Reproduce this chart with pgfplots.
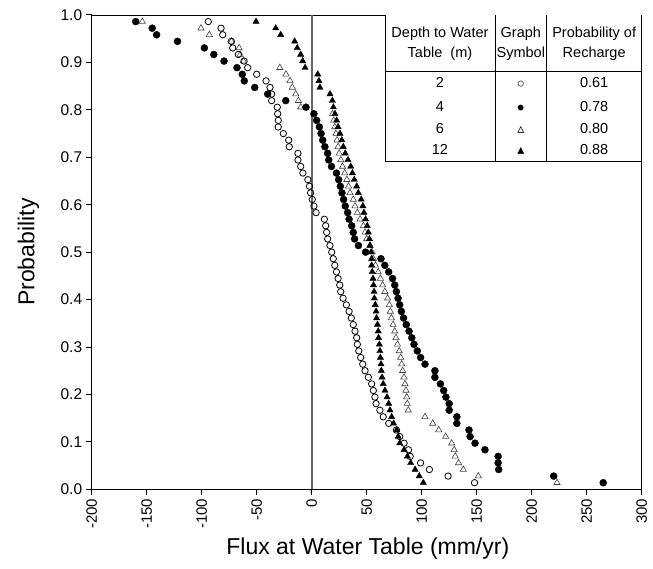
\documentclass[border=0pt]{standalone}
\usepackage{pgfplots}
\pgfplotsset{compat=1.18}
\usepackage{pgfplotstable}
\usepackage{fontspec}
\setmainfont{Liberation Sans}
\newfontfamily\dejavu{DejaVu Sans}

% depth 2 m (open circles): probability, flux
\pgfplotstableread{
p flux
0.9861 -94
0.9722 -82.4
0.9583 -80.9
0.9444 -73.1
0.9306 -71.8
0.9167 -66.7
0.9028 -61.5
0.8889 -58.2
0.875 -50
0.8611 -41.5
0.8472 -37.9
0.8333 -36.4
0.8194 -36.4
0.8056 -31.3
0.7917 -30.9
0.7778 -30.4
0.7639 -30.4
0.75 -25.8
0.7361 -20.9
0.7222 -20.4
0.7083 -12.5
0.6944 -12.5
0.6806 -10
0.6667 -8
0.6528 -3.5
0.6389 -2
0.625 -1
0.6111 0.5
0.5972 2
0.5833 4
0.5694 11.5
0.5556 12.7
0.5417 13.6
0.5278 14.5
0.5139 16.6
0.5 18.2
0.4861 19.6
0.4722 21
0.4583 22.5
0.4444 24
0.4306 25.5
0.4167 26.4
0.4028 28.5
0.3889 31.5
0.375 34
0.3611 36
0.3472 37.8
0.3333 39.4
0.3194 40.9
0.3056 41.5
0.2917 42.8
0.2778 44.5
0.2639 46.4
0.25 48.5
0.2361 51.5
0.2222 54.5
0.2083 56
0.1944 57.5
0.1806 58.5
0.1667 62
0.1528 65
0.1389 70
0.125 77
0.1111 80
0.0972 84
0.0833 88
0.0694 89.5
0.0556 99
0.0417 107
0.0278 124
0.0139 148
}\depthtwo

% depth 4 m (filled circles)
\pgfplotstableread{
p flux
0.9861 -160
0.9722 -145
0.9583 -141
0.9444 -122
0.9306 -97.6
0.9167 -89
0.9028 -79.7
0.8889 -67.9
0.875 -63.1
0.8611 -61.3
0.8472 -51.8
0.8333 -40
0.8194 -23.6
0.8056 -5.2
0.7917 2
0.7778 4.5
0.7639 7
0.75 8.5
0.7361 10
0.7222 12
0.7083 14.5
0.6944 15.5
0.6806 18
0.6667 22.5
0.6528 24.5
0.6389 26
0.625 27.5
0.6111 29
0.5972 30.5
0.5833 32.7
0.5694 34
0.5556 36.4
0.5417 37.8
0.5278 39
0.5139 42.5
0.5 49
0.4861 63
0.4722 66.5
0.4583 70
0.4444 73.5
0.4306 75.5
0.4167 77
0.4028 78.5
0.3889 80
0.375 81.5
0.3611 83.5
0.3472 86
0.3333 88.5
0.3194 91
0.3056 93
0.2917 96
0.2778 99
0.2639 103
0.25 112
0.2361 112
0.2222 117
0.2083 120
0.1944 122
0.1806 125
0.1667 125
0.1528 132
0.1389 132
0.125 143
0.1111 144
0.0972 148.5
0.0833 157.5
0.0694 169.5
0.0556 169.5
0.0417 170
0.0278 220
0.0139 265
}\depthfour

% depth 6 m (open triangles)
\pgfplotstableread{
p flux
0.9861 -154
0.9722 -100.6
0.9583 -93
0.9444 -73
0.9306 -66
0.9167 -65
0.9028 -62
0.8889 -29
0.875 -23.4
0.8611 -19.7
0.8472 -17.6
0.8333 -14.5
0.8194 -12.1
0.8056 -10
0.7917 19
0.7778 20
0.7639 21
0.75 22
0.7361 23
0.7222 24
0.7083 25
0.6944 26.5
0.6806 28
0.6667 30
0.6528 32
0.6389 33.5
0.625 34.8
0.6111 37.8
0.5972 39.4
0.5833 41.5
0.5694 44
0.5556 47
0.5417 48.5
0.5278 50
0.5139 53
0.5 55
0.4861 56
0.4722 58
0.4583 60.5
0.4444 62.5
0.4306 64.5
0.4167 66.5
0.4028 69
0.3889 70.6
0.375 71.5
0.3611 72.5
0.3472 74
0.3333 75.5
0.3194 76.6
0.3056 78
0.2917 79.6
0.2778 80.9
0.2639 81.8
0.25 82.7
0.2361 83.9
0.2222 84.8
0.2083 85.7
0.1944 86.4
0.1806 86.9
0.1667 87.8
0.1528 103
0.1389 110
0.125 115.5
0.1111 121.8
0.0972 127.3
0.0833 129.5
0.0694 130.5
0.0556 133.5
0.0417 137.8
0.0278 151.5
0.0139 223
}\depthsix

% depth 12 m (filled triangles)
\pgfplotstableread{
p flux
0.9861 -50.6
0.9722 -32.7
0.9583 -28.2
0.9444 -15.5
0.9306 -13.1
0.9167 -10
0.9028 -8.2
0.8889 -6
0.875 5.5
0.8611 6.6
0.8472 7.5
0.8333 16.6
0.8194 18.8
0.8056 19.7
0.7917 21.2
0.7778 22.7
0.7639 24
0.75 25.7
0.7361 27.3
0.7222 28.7
0.7083 30.5
0.6944 33
0.6806 35.5
0.6667 37
0.6528 38.7
0.6389 40.9
0.625 42.4
0.6111 45
0.5972 46.5
0.5833 47.5
0.5694 49
0.5556 50.5
0.5417 51.5
0.5278 52.5
0.5139 53
0.5 54
0.4861 54.5
0.4722 54.5
0.4583 55
0.4444 55.7
0.4306 56.2
0.4167 56.7
0.4028 57
0.3889 57.8
0.375 58.5
0.3611 59
0.3472 59.8
0.3333 60.5
0.3194 60.8
0.3056 61.5
0.2917 62
0.2778 62.5
0.2639 63
0.25 63.3
0.2361 64
0.2222 65
0.2083 66.6
0.1944 68.5
0.1806 70
0.1667 71.2
0.1528 72.7
0.1389 74.5
0.125 77.3
0.1111 78.7
0.0972 80
0.0833 84
0.0694 87
0.0556 90
0.0417 94
0.0278 97.8
0.0139 101.5
}\depthtwelve

\newcommand{\tbl}{\fontsize{14.5}{20}\selectfont}

\begin{document}
\begin{tikzpicture}
\path[use as bounding box] (-91.7pt,-79.7pt) rectangle (561.3pt,489.3pt);
\begin{axis}[
  scale only axis, width=550pt, height=474.3pt,
  xmin=-200, xmax=300, ymin=0, ymax=1,
  clip=false,
  axis line style={line width=0.9pt},
  tick align=outside, major tick length=6pt,
  xtick pos=lower, ytick pos=left,
  major tick style={black, line width=1pt},
  xtick={-200,-150,-100,-50,0,50,100,150,200,250,300},
  xticklabels={-200,-150,-100,-50,0,50,100,150,200,250,300},
  ytick={0,0.1,0.2,0.3,0.4,0.5,0.6,0.7,0.8,0.9,1},
  yticklabels={0.0,0.1,0.2,0.3,0.4,0.5,0.6,0.7,0.8,0.9,1.0},
  xticklabel style={rotate=90, anchor=east, font=\fontsize{15}{15}\selectfont},
  yticklabel style={font=\fontsize{15.5}{15.5}\selectfont},
  xlabel={Flux at Water Table (mm/yr)},
  ylabel={Probability},
  label style={font=\fontsize{23}{23}\selectfont},
  xlabel style={at={(axis description cs:0.502,-0.124)}, anchor=center},
  ylabel style={at={(axis description cs:-0.115,0.5)}, anchor=center},
]
\addplot[black!60, line width=2pt] coordinates {(0,0) (0,1)};
\addplot[only marks, mark=triangle, mark size=3.6pt, mark options={draw=black!75, line width=0.6pt}] table[x=flux, y=p] {\depthsix};
\addplot[only marks, mark=triangle*, mark size=3.6pt, mark options={draw=black, fill=black}] table[x=flux, y=p] {\depthtwelve};
\addplot[only marks, mark=*, mark size=3.5pt, mark options={draw=black, fill=black}] table[x=flux, y=p] {\depthfour};
\addplot[only marks, mark=o, mark size=3.2pt, mark options={draw=black, line width=0.8pt, fill=white}] table[x=flux, y=p] {\depthtwo};

% table in upper right
\draw[line width=0.9pt, fill=white] (axis cs:66.6,1) -- (axis cs:66.6,0.691) -- (axis cs:300,0.691) -- (axis cs:300,1);
\draw[line width=0.9pt] (axis cs:66.6,0.882) -- (axis cs:300,0.882);
\draw[line width=0.9pt] (axis cs:166.6,1) -- (axis cs:166.6,0.691);
\draw[line width=0.9pt] (axis cs:213.6,1) -- (axis cs:213.6,0.691);
\node[font=\tbl, align=center] at (axis cs:116.6,0.940) {Depth to Water\\Table\ \ (m)};
\node[font=\tbl, align=center] at (axis cs:190.1,0.940) {Graph\\Symbol};
\node[font=\tbl, align=center] at (axis cs:256.8,0.940) {Probability of\\Recharge};
\node[font=\tbl] at (axis cs:116.6,0.857) {2};
\node[font=\tbl] at (axis cs:116.6,0.807) {4};
\node[font=\tbl] at (axis cs:116.6,0.761) {6};
\node[font=\tbl] at (axis cs:116.6,0.717) {12};
\node[font=\dejavu\fontsize{20}{20}\selectfont] at (axis cs:190.1,0.850) {◦};
\node[font=\dejavu\fontsize{20}{20}\selectfont] at (axis cs:190.1,0.800) {•};
\node[font=\dejavu\fontsize{14}{14}\selectfont] at (axis cs:190.1,0.757) {▵};
\node[font=\dejavu\fontsize{14}{14}\selectfont] at (axis cs:190.1,0.713) {▴};
\node[font=\tbl] at (axis cs:256.8,0.857) {0.61};
\node[font=\tbl] at (axis cs:256.8,0.807) {0.78};
\node[font=\tbl] at (axis cs:256.8,0.761) {0.80};
\node[font=\tbl] at (axis cs:256.8,0.717) {0.88};
\end{axis}
\end{tikzpicture}
\end{document}
